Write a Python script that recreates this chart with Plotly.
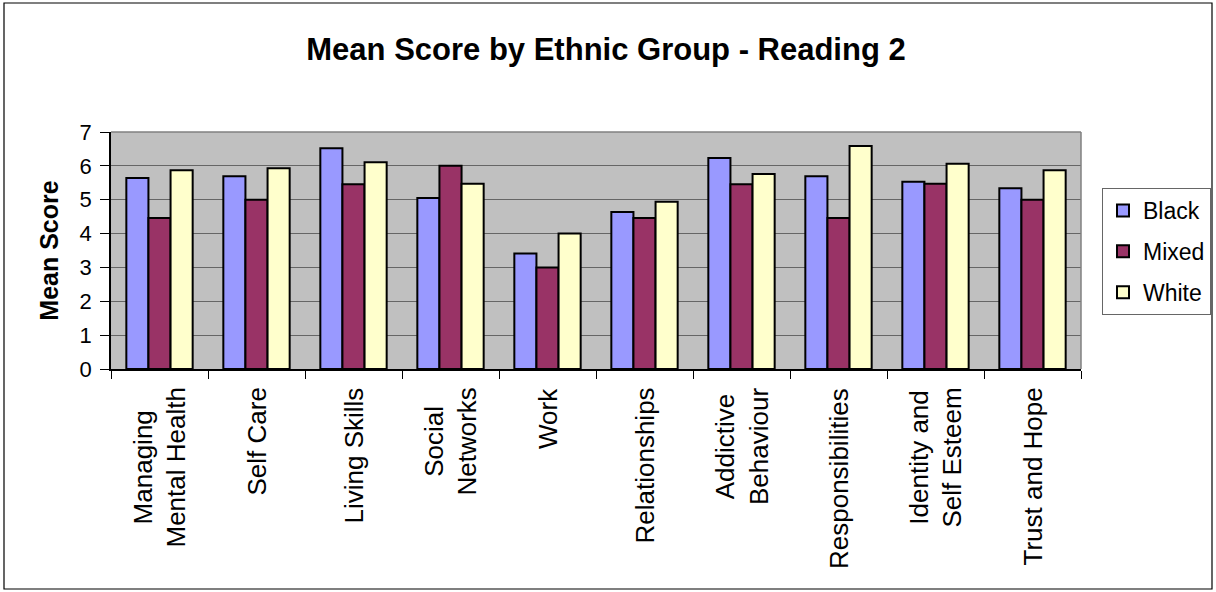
import plotly.graph_objects as go

categories = ["Managing<br>Mental Health", "Self Care", "Living Skills", "Social<br>Networks", "Work",
              "Relationships", "Addictive<br>Behaviour", "Responsibilities", "Identity and<br>Self Esteem",
              "Trust and Hope"]
cat_keys = ["Managing Mental Health", "Self Care", "Living Skills", "Social Networks", "Work",
            "Relationships", "Addictive Behaviour", "Responsibilities", "Identity and Self Esteem",
            "Trust and Hope"]
black = [5.64, 5.69, 6.52, 5.05, 3.41, 4.64, 6.23, 5.69, 5.53, 5.34]
mixed = [4.46, 5.00, 5.46, 6.00, 3.00, 4.46, 5.46, 4.46, 5.47, 5.00]
white = [5.87, 5.93, 6.11, 5.47, 4.00, 4.94, 5.76, 6.59, 6.06, 5.87]
y_ticks = [0, 1, 2, 3, 4, 5, 6, 7]

FONT = "Liberation Sans, Arial, sans-serif"

fig = go.Figure()
for name, vals, col in [("Black", black, "#9999FF"), ("Mixed", mixed, "#993366"), ("White", white, "#FFFFCC")]:
    fig.add_trace(go.Bar(x=cat_keys, y=vals, name=name, legendgroup=name,
                         marker=dict(color=col, line=dict(color="black", width=2))))

W, H = 1216, 592
L, R, T, B = 111, 135, 132, 223
pw = W - L - R
ph = H - T - B

annotations = []
for key, lab in zip(cat_keys, categories):
    annotations.append(dict(x=key, xref="x", y=0, yref="paper", yshift=-17, yanchor="top",
                            xanchor="center", text=lab, textangle=-90, showarrow=False,
                            font=dict(family=FONT, size=26, color="black")))

shapes = [
    dict(type="line", xref="paper", yref="paper", x0=0, x1=1, y0=1, y1=1, line=dict(color="#808080", width=1.5)),
    dict(type="line", xref="paper", yref="paper", x0=1, x1=1, y0=0, y1=1, line=dict(color="#808080", width=1.5)),
    dict(type="rect", xref="paper", yref="paper",
         x0=(4 - L) / pw, x1=(1212 - L) / pw, y0=(H - B - 589) / ph, y1=(H - B - 3) / ph,
         line=dict(color="black", width=1.2)),
]

fig.update_layout(
    width=W, height=H,
    margin=dict(l=L, r=R, t=T, b=B, autoexpand=False),
    paper_bgcolor="white", plot_bgcolor="#C0C0C0",
    font=dict(family=FONT, color="black"),
    title=dict(text="<b>Mean Score by Ethnic Group - Reading 2</b>", x=(606 - L) / pw, xanchor="center",
               xref="paper", y=1 - 49 / H, yanchor="middle", yref="container",
               font=dict(family=FONT, size=31, color="black")),
    barmode="group", bargap=0.316, bargroupgap=0,
    xaxis=dict(type="category", showticklabels=False, ticks="outside", tickson="boundaries",
               ticklen=8, tickcolor="black", showline=True, linecolor="black", linewidth=1.5,
               showgrid=False, range=[-0.5, 9.5]),
    yaxis=dict(range=[0, 7], tickvals=y_ticks, ticks="outside", ticklen=9, tickcolor="black",
               showline=True, linecolor="black", linewidth=1.5, showgrid=True,
               gridcolor="#666666", gridwidth=1, zeroline=False,
               tickfont=dict(family=FONT, size=22, color="black"), ticklabelstandoff=4,
               title=dict(text="<b>Mean Score</b>", font=dict(family=FONT, size=25, color="black"),
                          standoff=14)),
    legend=dict(x=(1102 - L) / pw, xanchor="left", y=(H - B - 188) / ph, yanchor="top",
                bgcolor="white", bordercolor="#666666", borderwidth=1,
                font=dict(family=FONT, size=23, color="black"), tracegroupgap=8,
                itemsizing="constant"),
    annotations=annotations, shapes=shapes,
)

fig.write_html("out.html")
